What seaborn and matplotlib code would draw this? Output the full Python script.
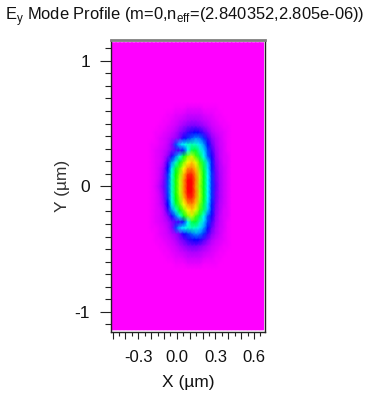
import numpy as np
import pandas as pd
import matplotlib
matplotlib.use('Agg')
import matplotlib.pyplot as plt
from matplotlib.colors import LinearSegmentedColormap
import seaborn as sns

title = r'E$_{\mathrm{y}}$ Mode Profile (m=0,n$_{\mathrm{eff}}$=(2.840352,2.805e-06))'
xlabel = 'X (\u00b5m)'
ylabel = 'Y (\u00b5m)'

# grid of the field
x_start = -0.504
x_step = 4 / 129
y_start = 1.143
y_step = 6 / 126
n_cols = 39
n_rows = 49

# field values, 0 = magenta, 100 = red
first_col = 10
first_row = 11
core = [
    [0, 0, 0, 0, 0, 0, 1, 1, 1, 2, 2, 2, 2, 1, 1, 1, 1, 0, 0, 0],
    [0, 0, 0, 0, 1, 1, 2, 2, 3, 4, 4, 4, 4, 3, 2, 2, 1, 1, 0, 0],
    [0, 0, 0, 1, 1, 2, 3, 4, 5, 6, 7, 7, 6, 5, 4, 3, 2, 1, 1, 0],
    [0, 0, 1, 1, 2, 3, 4, 6, 8, 10, 11, 11, 10, 8, 6, 4, 3, 2, 1, 1],
    [0, 1, 1, 2, 3, 4, 6, 9, 12, 16, 18, 20, 18, 14, 10, 6, 4, 3, 2, 1],
    [0, 1, 2, 3, 4, 6, 8, 12, 19, 24, 28, 32, 30, 24, 15, 9, 6, 4, 2, 1],
    [1, 1, 2, 3, 5, 9, 26, 36, 40, 44, 46, 44, 38, 32, 21, 12, 7, 4, 3, 1],
    [1, 2, 3, 4, 6, 10, 14, 16, 23, 40, 54, 56, 46, 37, 25, 15, 8, 5, 3, 1],
    [1, 2, 3, 5, 9, 18, 30, 42, 58, 70, 76, 66, 54, 41, 27, 18, 9, 5, 3, 2],
    [1, 2, 3, 6, 16, 31, 44, 58, 70, 80, 84, 78, 66, 52, 36, 22, 10, 6, 3, 2],
    [1, 2, 4, 8, 20, 38, 56, 68, 80, 88, 90, 84, 70, 55, 38, 22, 11, 6, 4, 2],
    [1, 2, 4, 9, 24, 42, 60, 72, 85, 96, 97, 88, 74, 58, 40, 24, 12, 7, 4, 2],
    [1, 2, 5, 10, 25, 44, 62, 75, 88, 100, 100, 90, 74, 58, 40, 24, 12, 7, 4, 2],
    [1, 3, 6, 11, 26, 44, 62, 75, 88, 100, 100, 88, 72, 58, 40, 24, 13, 7, 4, 2],
    [1, 2, 5, 10, 25, 44, 62, 75, 88, 100, 100, 90, 74, 58, 40, 24, 12, 7, 4, 2],
    [1, 2, 4, 9, 24, 42, 60, 72, 85, 96, 97, 88, 74, 58, 40, 24, 12, 7, 4, 2],
    [1, 2, 4, 8, 20, 38, 56, 68, 80, 88, 90, 84, 70, 55, 38, 22, 11, 6, 4, 2],
    [1, 2, 3, 6, 16, 31, 44, 58, 70, 80, 84, 78, 66, 52, 36, 22, 10, 6, 3, 2],
    [1, 2, 3, 5, 9, 18, 30, 42, 58, 70, 76, 66, 54, 41, 27, 18, 9, 5, 3, 2],
    [1, 2, 3, 4, 6, 10, 14, 16, 23, 40, 54, 56, 46, 37, 25, 15, 8, 5, 3, 1],
    [1, 1, 2, 3, 5, 9, 26, 36, 40, 44, 46, 44, 38, 32, 21, 12, 7, 4, 3, 1],
    [0, 1, 2, 3, 4, 6, 8, 12, 19, 24, 28, 32, 30, 24, 15, 9, 6, 4, 2, 1],
    [0, 1, 1, 2, 3, 4, 6, 9, 12, 16, 18, 20, 18, 14, 10, 6, 4, 3, 2, 1],
    [0, 0, 1, 1, 2, 3, 4, 6, 8, 10, 11, 11, 10, 8, 6, 4, 3, 2, 1, 1],
    [0, 0, 0, 1, 1, 2, 3, 4, 5, 6, 7, 7, 6, 5, 4, 3, 2, 1, 1, 0],
    [0, 0, 0, 0, 1, 1, 2, 2, 3, 4, 4, 4, 4, 3, 2, 2, 1, 1, 0, 0],
    [0, 0, 0, 0, 0, 0, 1, 1, 1, 2, 2, 2, 2, 1, 1, 1, 1, 0, 0, 0],
]

field_colors = ['#ff00ff', '#0000ff', '#00ffff', '#00ff00', '#ffff00', '#ff0000']

x_major = [-0.5, -0.4, -0.3, -0.2, -0.1, 0.0, 0.1, 0.2, 0.3, 0.4, 0.5, 0.6]
x_minor = [-0.45, -0.35, -0.25, -0.15, -0.05, 0.05, 0.15, 0.25, 0.35, 0.45, 0.55, 0.65]
x_labelled = [-0.3, 0.0, 0.3, 0.6]
y_major = [1, 0, -1]
y_minor = [1.1, 0.9, 0.8, 0.7, 0.6, 0.5, 0.4, 0.3, 0.2, 0.1, -0.1, -0.2, -0.3, -0.4,
           -0.5, -0.6, -0.7, -0.8, -0.9, -1.1]


def x_pos(v):
    return (np.asarray(v) - x_start) / x_step


def y_pos(v):
    return (y_start - np.asarray(v)) / y_step


plt.rcParams['font.family'] = ['Liberation Sans', 'DejaVu Sans']
plt.rcParams['mathtext.fontset'] = 'custom'
plt.rcParams['mathtext.rm'] = 'Liberation Sans'

field = np.zeros((n_rows, n_cols))
core = np.array(core, dtype=float)
field[first_row:first_row + core.shape[0], first_col:first_col + core.shape[1]] = core
df = pd.DataFrame(field)

fig = plt.figure(figsize=(3.87, 4.0), dpi=100)
ax = fig.add_axes([111 / 387, 1 - 332 / 400, 154 / 387, 292 / 400])
cmap = LinearSegmentedColormap.from_list('mode', field_colors)
sns.heatmap(df, ax=ax, cmap=cmap, vmin=0, vmax=100, cbar=False, shading='gouraud',
            xticklabels=False, yticklabels=False)

ax.set_xlim(x_pos(-0.512), x_pos(0.685))
ax.set_ylim(y_pos(-1.16), y_pos(1.165))

for side in ['left', 'bottom', 'right']:
    ax.spines[side].set_visible(True)
    ax.spines[side].set_color('#222222')
    ax.spines[side].set_linewidth(1.0)
ax.spines['top'].set_visible(True)
ax.spines['top'].set_color('#808080')
ax.spines['top'].set_linewidth(2.0)

ax.set_xticks(x_pos(x_major))
ax.set_xticklabels(['{:.1f}'.format(v) if v in x_labelled else '' for v in x_major], fontsize=12)
ax.set_xticks(x_pos(x_minor), minor=True)
ax.set_yticks(y_pos(y_major))
ax.set_yticklabels(['{}'.format(v) for v in y_major], fontsize=12.5)
ax.set_yticks(y_pos(y_minor), minor=True)
ax.tick_params(axis='x', which='major', length=5, width=0.8, pad=8, color='#222222', labelcolor='#111111', rotation=0)
ax.tick_params(axis='x', which='minor', length=3, width=0.8, color='#222222')
ax.tick_params(axis='y', which='major', length=8, width=0.8, pad=7, color='#222222', labelcolor='#111111', rotation=0)
ax.tick_params(axis='y', which='minor', length=4, width=0.8, color='#222222')

fig.text(5 / 387, 1 - 20 / 400, title, fontsize=11.9, color='#111111', ha='left', va='baseline')
fig.text(188 / 387, 1 - 387 / 400, xlabel, fontsize=12.5, color='#111111', ha='center', va='baseline')
fig.text(63 / 387, 1 - 186 / 400, ylabel, fontsize=12.5, color='#333333', rotation=90,
         ha='center', va='center')

fig.savefig('out.png', dpi=100)
